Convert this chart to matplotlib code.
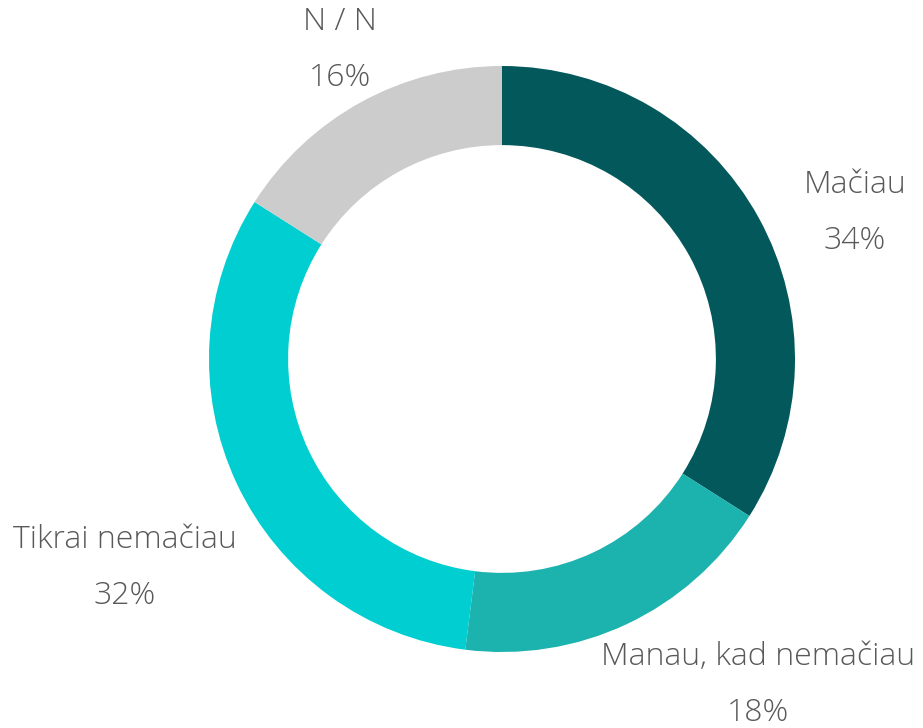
import matplotlib
matplotlib.use("Agg")
import matplotlib.pyplot as plt

labels = ["Mačiau", "Manau, kad nemačiau", "Tikrai nemačiau", "N / N"]
shares = [34, 18, 32, 16]
colors = ["#03585C", "#1CB2AE", "#00CED1", "#CCCCCC"]

# label block centres in axis units (radius = 1)
label_pos = [(1.205, 0.498), (0.874, -1.113), (-1.287, -0.713), (-0.553, 1.055)]

fig = plt.figure(figsize=(9.23, 7.28), dpi=100)
ax = fig.add_axes([0, 0, 1, 1])
ax.pie(shares, colors=colors, startangle=90, counterclock=False, radius=1,
       wedgeprops=dict(width=0.27, linewidth=0))
ax.set_xlim(-502 / 293, (923 - 502) / 293)
ax.set_ylim(-(728 - 359) / 293, 359 / 293)
ax.set_aspect("auto")
ax.axis("off")

for lab, val, (x, y) in zip(labels, shares, label_pos):
    ax.text(x, y, f"{lab}\n{val}%", ha="center", va="center", fontsize=23,
            color="#595959", family="Open Sans", fontweight="light",
            linespacing=2.0)

fig.savefig("out.png", dpi=100)
